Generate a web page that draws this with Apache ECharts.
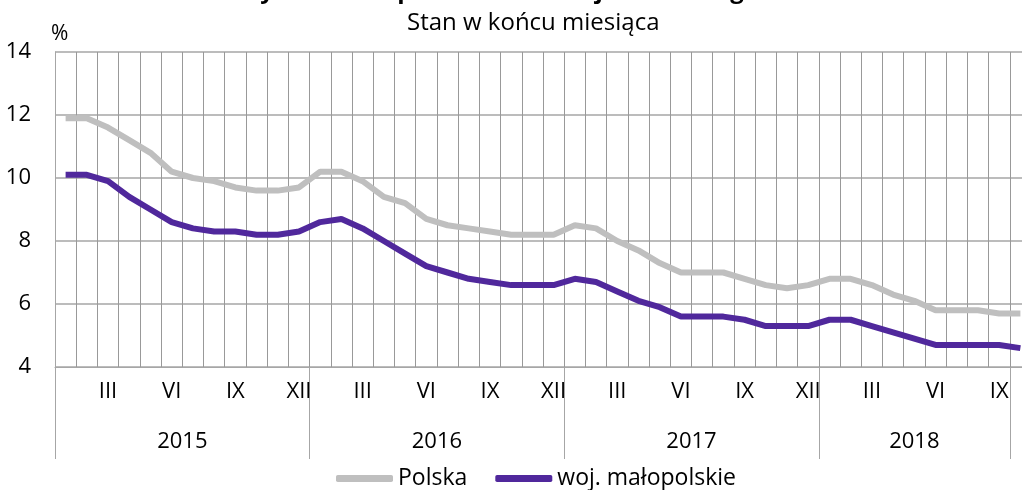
<!DOCTYPE html>
<html>
<head>
<meta charset="utf-8">
<script src="https://cdn.jsdelivr.net/npm/echarts@6/dist/echarts.min.js"></script>
<style>
  html, body { margin: 0; padding: 0; background: #fff; overflow: hidden; }
  #chart { width: 1032px; height: 490px; }
</style>
</head>
<body>
<div id="chart"></div>
<script>
// miesiace I 2015 - X 2018
var months = [];
var monthLabels = ['', '', 'III', '', '', 'VI', '', '', 'IX', '', '', 'XII'];
var yearNames = ['2015', '2016', '2017', '2018'];
var yearLengths = [12, 12, 12, 9];

var polska = [
  11.9, 11.9, 11.6, 11.2, 10.8, 10.2, 10.0, 9.9, 9.7, 9.6, 9.6, 9.7,
  10.2, 10.2, 9.9, 9.4, 9.2, 8.7, 8.5, 8.4, 8.3, 8.2, 8.2, 8.2,
  8.5, 8.4, 8.0, 7.7, 7.3, 7.0, 7.0, 7.0, 6.8, 6.6, 6.5, 6.6,
  6.8, 6.8, 6.6, 6.3, 6.1, 5.8, 5.8, 5.8, 5.7, 5.7
];
var malopolskie = [
  10.1, 10.1, 9.9, 9.4, 9.0, 8.6, 8.4, 8.3, 8.3, 8.2, 8.2, 8.3,
  8.6, 8.7, 8.4, 8.0, 7.6, 7.2, 7.0, 6.8, 6.7, 6.6, 6.6, 6.6,
  6.8, 6.7, 6.4, 6.1, 5.9, 5.6, 5.6, 5.6, 5.5, 5.3, 5.3, 5.3,
  5.5, 5.5, 5.3, 5.1, 4.9, 4.7, 4.7, 4.7, 4.7, 4.6
];

for (var i = 0; i < polska.length; i++) {
  months.push(i < 45 ? monthLabels[i % 12] : '');
}

// granice i srodki lat na osi wartosci
var yearBounds = [0];
var yearCenters = [];
var acc = 0;
for (var k = 0; k < yearLengths.length; k++) {
  yearCenters.push(acc + yearLengths[k] / 2);
  acc += yearLengths[k];
  yearBounds.push(acc);
}

var font = '"Open Sans", "Noto Sans", sans-serif';
var gridColor = '#a6a6a6';

var chart = echarts.init(document.getElementById('chart'));
chart.setOption({
  animation: false,
  textStyle: { fontFamily: font, color: '#000' },
  title: [{
    text: 'Wykres 1. Stopa bezrobocia rejestrowanego',
    left: 232,
    top: -26,
    textStyle: { fontFamily: font, fontSize: 24, fontWeight: 'bold', color: '#000' }
  }, {
    text: 'Stan w końcu miesiąca',
    left: 402,
    top: 6,
    textStyle: { fontFamily: font, fontSize: 24, fontWeight: 'normal', color: '#000' }
  }],
  legend: {
    left: 331,
    top: 462,
    itemWidth: 57,
    itemHeight: 7,
    itemGap: 28,
    icon: 'roundRect',
    textStyle: { fontFamily: font, fontSize: 23, color: '#000' },
    data: ['Polska', 'woj. małopolskie']
  },
  grid: { left: 55, right: 1, top: 52, bottom: 123, containLabel: false },
  xAxis: [{
    type: 'category',
    data: months,
    boundaryGap: true,
    axisLine: { show: true, lineStyle: { color: gridColor, width: 1 } },
    axisTick: { show: false },
    axisLabel: { interval: 0, margin: 14, fontSize: 22, color: '#000', fontFamily: font },
    splitLine: { show: true, interval: 0, lineStyle: { color: '#999', width: 1 } }
  }, {
    type: 'value',
    min: 0,
    max: polska.length,
    position: 'bottom',
    axisLine: { show: false },
    splitLine: { show: false },
    axisTick: {
      show: true,
      customValues: yearBounds,
      length: 92,
      lineStyle: { color: gridColor, width: 1 }
    },
    axisLabel: {
      customValues: yearCenters,
      margin: 64,
      fontSize: 22,
      color: '#000',
      fontFamily: font,
      formatter: function (v) {
        var idx = yearCenters.indexOf(v);
        return idx >= 0 ? yearNames[idx] : '';
      }
    }
  }],
  yAxis: {
    type: 'value',
    min: 4,
    max: 14,
    interval: 2,
    name: '%',
    nameGap: 7,
    nameTextStyle: { fontFamily: font, fontSize: 21, color: '#000', align: 'left', padding: [0, 0, 0, -4] },
    axisLine: { show: true, lineStyle: { color: gridColor } },
    axisTick: { show: false },
    axisLabel: { margin: 24, fontSize: 22, color: '#000', fontFamily: font },
    splitLine: { show: true, lineStyle: { color: gridColor, width: 1.5 } }
  },
  series: [{
    name: 'Polska',
    type: 'line',
    data: polska,
    showSymbol: false,
    symbol: 'none',
    lineStyle: { width: 6, color: '#bfbfbf' },
    itemStyle: { color: '#bfbfbf' }
  }, {
    name: 'woj. małopolskie',
    type: 'line',
    data: malopolskie,
    showSymbol: false,
    symbol: 'none',
    lineStyle: { width: 6, color: '#50289c' },
    itemStyle: { color: '#50289c' }
  }]
});
</script>
</body>
</html>
